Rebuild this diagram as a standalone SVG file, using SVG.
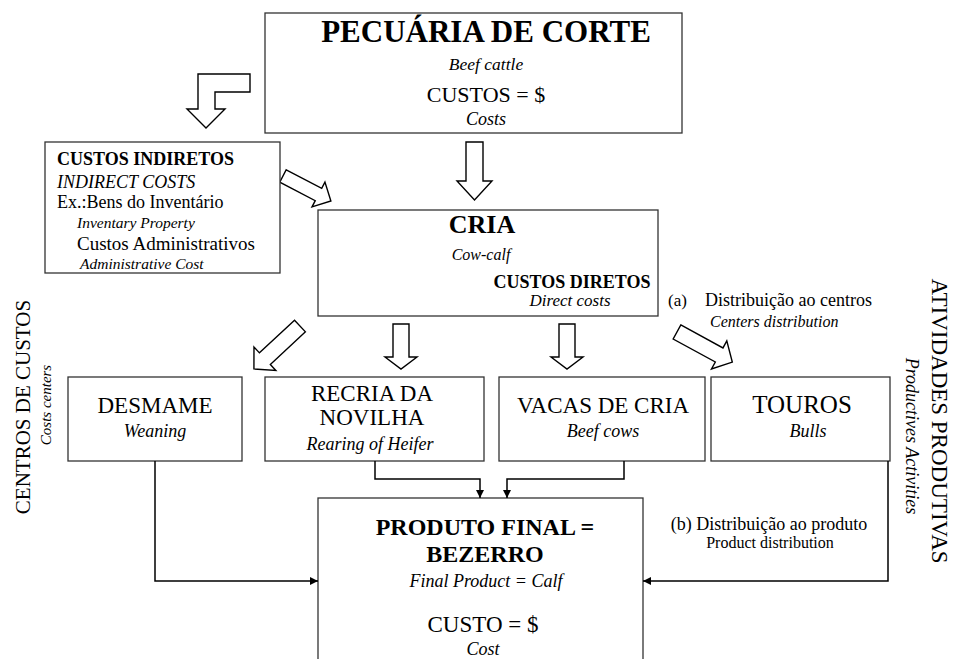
<svg xmlns="http://www.w3.org/2000/svg" width="953" height="659" viewBox="0 0 953 659">
<style>
text{font-family:"Liberation Serif","Times New Roman",serif;fill:#000}
.b{font-weight:bold}
.i{font-style:italic}
.m{text-anchor:middle}
.box{fill:#fff;stroke:#333;stroke-width:1.3}
.blk{fill:#fff;stroke:#000;stroke-width:1.4;stroke-linejoin:miter}
.con{fill:none;stroke:#000;stroke-width:1.5}
</style>
<defs>
<marker id="ah" viewBox="0 0 10 10" refX="10" refY="5" markerWidth="9" markerHeight="8" markerUnits="userSpaceOnUse" orient="auto"><path d="M0,0 L10,5 L0,10 Z" fill="#000"/></marker>
</defs>
<rect x="0" y="0" width="953" height="659" fill="#fff"/>

<g id="block-arrows">
<polygon class="blk" points="198,74 250,74 250,92 215,92 215,109 225,109 206,128 187,109 198,109"/>
<polygon class="blk" points="466,142 483,142 483,181 492,181 474.5,200 457,181 466,181"/>
<polygon class="blk" transform="translate(283,176) rotate(27.5)" points="0,-7 40,-7 40,-14 54,0 40,14 40,7 0,7"/>
<polygon class="blk" transform="translate(300,326) rotate(137)" points="0,-8 48,-8 48,-16 63,0 48,16 48,8 0,8"/>
<polygon class="blk" points="393,324 409,324 409,357 417,357 401,369 385,357 393,357"/>
<polygon class="blk" points="559,324 575,324 575,357 583,357 567,369 551,357 559,357"/>
<polygon class="blk" transform="translate(677,332) rotate(28.6)" points="0,-8 48,-8 48,-16 63,0 48,16 48,8 0,8"/>
</g>

<g id="top">
<rect class="box" x="265" y="13" width="417" height="120"/>
<text class="b m" x="486" y="42" font-size="31">PECUÁRIA DE CORTE</text>
<text class="i m" x="486" y="70" font-size="17.5">Beef cattle</text>
<text class="m" x="486" y="102" font-size="22">CUSTOS = $</text>
<text class="i m" x="486" y="125" font-size="18">Costs</text>
</g>

<g id="indiretos">
<rect class="box" x="45" y="142" width="235" height="131"/>
<text class="b" x="57" y="165" font-size="18">CUSTOS INDIRETOS</text>
<text class="i" x="57" y="188" font-size="18">INDIRECT COSTS</text>
<text x="57" y="208" font-size="18">Ex.:Bens do Inventário</text>
<text class="i" x="77" y="228" font-size="15.5">Inventary Property</text>
<text x="77" y="250" font-size="19">Custos Administrativos</text>
<text class="i" x="80" y="269" font-size="15.5">Administrative Cost</text>
</g>

<g id="cria">
<rect class="box" x="318" y="210" width="340" height="106"/>
<text class="b m" x="482" y="233" font-size="26">CRIA</text>
<text class="i m" x="481" y="260" font-size="16">Cow-calf</text>
<text class="b m" x="572" y="288" font-size="18">CUSTOS DIRETOS</text>
<text class="i m" x="570" y="306" font-size="17">Direct costs</text>
</g>

<g id="label-a">
<text x="668" y="306" font-size="17">(a)</text>
<text x="705" y="306" font-size="18">Distribuição ao centros</text>
<text class="i" x="710" y="327" font-size="16">Centers distribution</text>
</g>

<g id="desmame">
<rect class="box" x="68" y="377" width="174" height="84"/>
<text class="m" x="155" y="413" font-size="23">DESMAME</text>
<text class="i m" x="155" y="437" font-size="18">Weaning</text>
</g>

<g id="recria">
<rect class="box" x="265" y="377" width="219" height="84"/>
<text class="m" x="372" y="401" font-size="23">RECRIA DA</text>
<text class="m" x="372" y="425" font-size="23">NOVILHA</text>
<text class="i m" x="370" y="450" font-size="18">Rearing of Heifer</text>
</g>

<g id="vacas">
<rect class="box" x="499" y="377" width="206" height="84"/>
<text class="m" x="603" y="413" font-size="23">VACAS DE CRIA</text>
<text class="i m" x="603" y="437" font-size="18">Beef cows</text>
</g>

<g id="touros">
<rect class="box" x="711" y="377" width="179" height="84"/>
<text class="m" x="802" y="413" font-size="25">TOUROS</text>
<text class="i m" x="808" y="437" font-size="18">Bulls</text>
</g>

<g id="produto">
<rect class="box" x="318" y="498" width="325" height="175"/>
<text class="b m" x="485" y="535" font-size="24">PRODUTO FINAL =</text>
<text class="b m" x="485" y="562" font-size="24">BEZERRO</text>
<text class="i m" x="486" y="587" font-size="18">Final Product = Calf</text>
<text class="m" x="483" y="632" font-size="23">CUSTO = $</text>
<text class="i m" x="483" y="655" font-size="18">Cost</text>
</g>

<g id="label-b">
<text class="m" x="769" y="530" font-size="18">(b) Distribuição ao produto</text>
<text class="m" x="770" y="548" font-size="16">Product distribution</text>
</g>

<g id="side-labels">
<text class="m" transform="translate(30,407) rotate(-90)" font-size="21">CENTROS DE CUSTOS</text>
<text class="i m" transform="translate(51,405) rotate(-90)" font-size="15">Costs centers</text>
<text class="m" transform="translate(932,421) rotate(90)" font-size="23">ATIVIDADES PRODUTIVAS</text>
<text class="i m" transform="translate(906,436) rotate(90)" font-size="18">Productives Activities</text>
</g>

<g id="connectors">
<path class="con" d="M155,461 V581 H318" marker-end="url(#ah)"/>
<path class="con" d="M888,461 V581 H643" marker-end="url(#ah)"/>
<path class="con" d="M375,461 V479 H480 V498" marker-end="url(#ah)"/>
<path class="con" d="M624,461 V479 H507 V498" marker-end="url(#ah)"/>
</g>
</svg>
